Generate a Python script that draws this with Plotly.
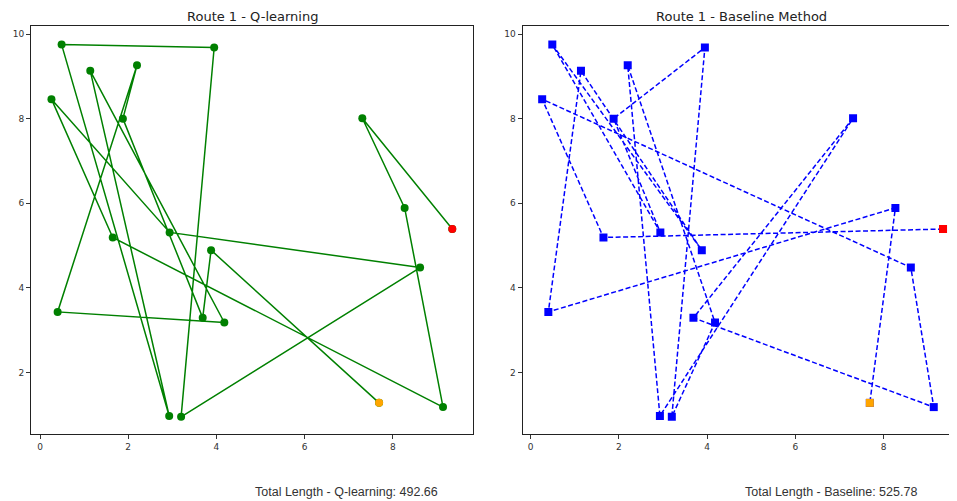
import plotly.graph_objects as go

# City coordinates (index 0 = red marker, index 19 = orange marker)
city_x = [9.35, 7.31, 8.27, 9.14, 1.65, 0.49, 1.14, 2.20, 3.95, 0.26,
          1.88, 2.94, 3.88, 8.62, 0.40, 3.69, 4.18, 2.93, 3.20, 7.69]
city_y = [5.39, 8.01, 5.89, 1.18, 5.19, 9.75, 9.13, 9.26, 9.68, 8.46,
          8.00, 5.31, 4.89, 4.48, 3.43, 3.29, 3.18, 0.97, 0.95, 1.28]

# Visiting orders
route_q = [0, 1, 2, 3, 4, 9, 11, 13, 18, 8, 5, 17, 6, 16, 14, 7, 10, 15, 12, 19]
route_b = [0, 4, 9, 13, 3, 15, 1, 17, 7, 16, 18, 8, 10, 11, 5, 12, 6, 14, 2, 19]

titles = ["Route 1 - Q-learning", "Route 1 - Baseline Method"]
totals = ["Total Length - Q-learning: 492.66", "Total Length - Baseline: 525.78"]
x_ticks = [0, 2, 4, 6, 8]
y_ticks = [2, 4, 6, 8, 10]

start_idx = route_q[0]
end_idx = route_q[-1]

fig = go.Figure()

def add_route(route, color, symbol, dash, xa, ya):
    fig.add_trace(go.Scatter(
        x=[city_x[i] for i in route], y=[city_y[i] for i in route],
        mode="lines+markers", xaxis=xa, yaxis=ya,
        line=dict(color=color, width=1.5, dash=dash),
        marker=dict(color=color, size=8, symbol=symbol),
        showlegend=False, hoverinfo="skip"))
    fig.add_trace(go.Scatter(
        x=[city_x[start_idx]], y=[city_y[start_idx]], mode="markers",
        xaxis=xa, yaxis=ya, marker=dict(color="#ff0000", size=8, symbol=symbol),
        showlegend=False, hoverinfo="skip"))
    fig.add_trace(go.Scatter(
        x=[city_x[end_idx]], y=[city_y[end_idx]], mode="markers",
        xaxis=xa, yaxis=ya, marker=dict(color="#ffa500", size=8, symbol=symbol),
        showlegend=False, hoverinfo="skip"))

add_route(route_q, "#008000", "circle", "solid", "x", "y")
add_route(route_b, "#0000ff", "square", "5px,2.5px", "x2", "y2")

# page has an 8px body margin, so the figure is 949x493 placed at (8, 8)
OFF = 8
W, H = 957 - OFF, 501 - OFF
top, bottom = 26 - OFF, 434 - OFF
ydom = [1 - bottom / H, 1 - top / H]
x1dom = [(31 - OFF) / W, (473 - OFF) / W]
x2dom = [(522.5 - OFF) / W, 1.0]

tickfont = dict(family="DejaVu Sans", size=9, color="#333")
common_x = dict(showgrid=False, zeroline=False, showline=True, linecolor="#222",
                linewidth=1, ticks="outside", ticklen=4, tickcolor="#333",
                tickvals=x_ticks, tickfont=tickfont, mirror=True)
common_y = dict(showgrid=False, zeroline=False, showline=True, linecolor="#222",
                linewidth=1, ticks="outside", ticklen=4, tickcolor="#333",
                tickvals=y_ticks, tickfont=tickfont, range=[0.544, 10.19])

fig.update_layout(
    width=W, height=H, margin=dict(l=0, r=0, t=0, b=0),
    paper_bgcolor="white", plot_bgcolor="white",
    xaxis=dict(domain=x1dom, range=[-0.204, 9.82], anchor="y", **common_x),
    yaxis=dict(domain=ydom, anchor="x", mirror=True, **common_y),
    xaxis2=dict(domain=x2dom, range=[-0.186, 9.667], anchor="y2", **common_x),
    yaxis2=dict(domain=ydom, anchor="x2", **common_y),
)

title_font = dict(family="DejaVu Sans", size=13, color="#222")
total_font = dict(family="Liberation Sans", size=12.5, color="#333")
for cx, t in zip([252, 741], titles):
    fig.add_annotation(x=(cx - OFF) / W, y=1.0, xref="paper", yref="paper",
                       text=t, showarrow=False, font=title_font, borderpad=0,
                       xanchor="center", yanchor="top")
for cx, t in zip([346, 831], totals):
    fig.add_annotation(x=(cx - OFF) / W, y=1 - (492 - OFF) / H, xref="paper", yref="paper",
                       text=t, showarrow=False, font=total_font,
                       xanchor="center", yanchor="middle")

fig.write_html("out.html")
